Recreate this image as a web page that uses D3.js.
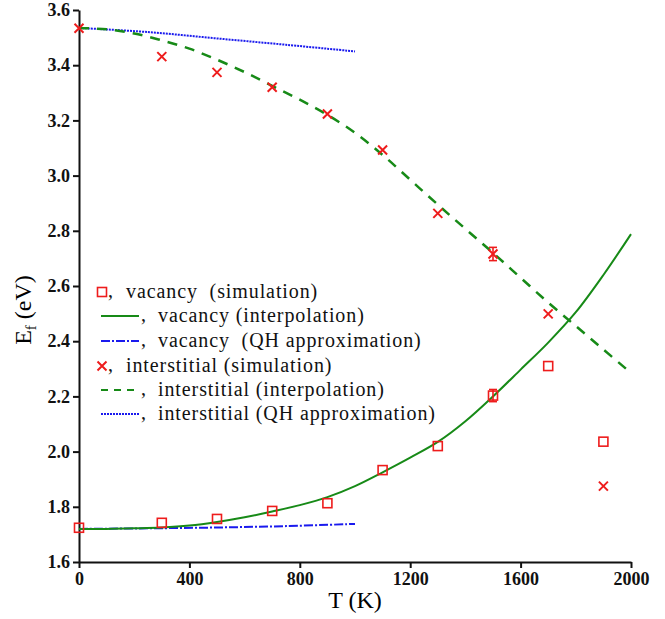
<!DOCTYPE html>
<html>
<head>
<meta charset="UTF-8">
<title>Formation energy</title>
<script src="https://cdn.jsdelivr.net/npm/d3@7/dist/d3.min.js"></script>
<style type="text/css">
body { margin: 0; background: #fff; }
svg { display: block; }
.axis path, .axis line { stroke: #111; stroke-width: 2; }
</style>
</head>
<body>
<div class="chart"></div>
<script>
// simulation points
var simTemps = [0, 300, 500, 700, 900, 1100, 1300, 1500, 1700, 1900];
var vacancySim = [1.724, 1.742, 1.756, 1.785, 1.813, 1.933, 2.02, 2.203, 2.31, 2.036];
var interstitialSim = [3.534, 3.431, 3.374, 3.32, 3.223, 3.093, 2.863, 2.716, 2.499, 1.875];

// error bars (only at 1500 K)
var errTemps = [1500];
var vacancyErr = [0.022];
var interstitialErr = [0.024];

// interpolation curves
var curveTemps = [0, 100, 200, 300, 400, 500, 600, 700, 800, 900, 1000, 1100, 1200, 1300, 1400, 1500, 1600, 1700, 1800, 1900, 2000];
var vacancyInterp = [1.72, 1.72, 1.722, 1.725, 1.732, 1.745, 1.762, 1.783, 1.806, 1.835, 1.875, 1.925, 1.978, 2.035, 2.11, 2.2, 2.297, 2.395, 2.505, 2.64, 2.788];
var interstitialInterp = [3.535, 3.53, 3.515, 3.49, 3.46, 3.42, 3.375, 3.325, 3.275, 3.22, 3.155, 3.075, 2.985, 2.895, 2.807, 2.72, 2.63, 2.54, 2.455, 2.37, 2.285];

// quasi-harmonic approximation
var qhTemps = [0, 250, 500, 750, 1000];
var vacancyQH = [1.72, 1.722, 1.725, 1.73, 1.738];
var interstitialQH = [3.535, 3.52, 3.497, 3.474, 3.45];

var xTicks = [0, 400, 800, 1200, 1600, 2000];
var yTicks = [1.6, 1.8, 2.0, 2.2, 2.4, 2.6, 2.8, 3.0, 3.2, 3.4, 3.6];

var legendLabels = ["vacancy  (simulation)", "vacancy (interpolation)", "vacancy  (QH approximation)",
  "interstitial (simulation)", "interstitial (interpolation)", "interstitial (QH approximation)"];

var red = "#ee1c1c", green = "#178a17", blue = "#1a1aee";
var serif = "Liberation Serif";

var svg = d3.select(".chart").append("svg")
  .attr("width", 665)
  .attr("height", 619);

var x = d3.scaleLinear().domain([0, 2000]).range([79, 631]);
var y = d3.scaleLinear().domain([1.6, 3.6]).range([562, 10]);

svg.append("g")
  .attr("class", "axis")
  .attr("transform", "translate(79,0)")
  .call(d3.axisLeft(y).tickValues(yTicks).tickFormat(d3.format(".1f")).tickSize(6).tickSizeOuter(0).tickPadding(3));

svg.append("g")
  .attr("class", "axis")
  .attr("transform", "translate(0,562)")
  .call(d3.axisBottom(x).tickValues(xTicks).tickFormat(d3.format("d")).tickSize(6).tickSizeOuter(0).tickPadding(4));

svg.selectAll(".axis").attr("font-family", serif).attr("font-size", 18);
svg.selectAll(".axis text")
  .attr("font-weight", "bold")
  .attr("fill", "#111");

// axis titles
svg.append("text")
  .attr("x", 355).attr("y", 608)
  .attr("text-anchor", "middle")
  .attr("font-family", serif).attr("font-size", 24)
  .text("T (K)");

var ylab = svg.append("text")
  .attr("transform", "translate(31,310) rotate(-90)")
  .attr("text-anchor", "middle")
  .attr("font-family", serif).attr("font-size", 24);
ylab.append("tspan").text("E");
ylab.append("tspan").attr("dy", 5).attr("font-size", 15).text("f");
ylab.append("tspan").attr("dy", -5).text(" (eV)");

function line(xs, ys) {
  return d3.line()
    .x(function(d, i){ return x(xs[i]); })
    .y(function(d){ return y(d); })
    .curve(d3.curveCatmullRom)(ys);
}

// QH approximations
svg.append("path").attr("d", line(qhTemps, vacancyQH))
  .attr("fill", "none").attr("stroke", blue).attr("stroke-width", 2).attr("stroke-dasharray", "9,2,2,2");
svg.append("path").attr("d", line(qhTemps, interstitialQH))
  .attr("fill", "none").attr("stroke", blue).attr("stroke-width", 2).attr("stroke-dasharray", "2,1");

// interpolations
svg.append("path").attr("d", line(curveTemps, vacancyInterp))
  .attr("fill", "none").attr("stroke", green).attr("stroke-width", 2);
svg.append("path").attr("d", line(curveTemps, interstitialInterp))
  .attr("fill", "none").attr("stroke", green).attr("stroke-width", 2.5).attr("stroke-dasharray", "10,8");

// error bars
function errorBars(vals, errs) {
  var g = svg.append("g").attr("stroke", red).attr("stroke-width", 1.6);
  errTemps.forEach(function(t, i){
    var k = simTemps.indexOf(t);
    var cx = x(t), top = y(vals[k] + errs[i]), bot = y(vals[k] - errs[i]);
    g.append("line").attr("x1", cx).attr("x2", cx).attr("y1", top).attr("y2", bot);
    g.append("line").attr("x1", cx - 4).attr("x2", cx + 4).attr("y1", top).attr("y2", top);
    g.append("line").attr("x1", cx - 4).attr("x2", cx + 4).attr("y1", bot).attr("y2", bot);
  });
}
errorBars(vacancySim, vacancyErr);
errorBars(interstitialSim, interstitialErr);

// simulation markers
function square(g, cx, cy) {
  g.append("rect").attr("x", cx - 4.5).attr("y", cy - 4.5).attr("width", 9).attr("height", 9)
    .attr("fill", "none").attr("stroke", red).attr("stroke-width", 1.6);
}
function cross(g, cx, cy) {
  g.append("path").attr("d", "M" + (cx - 4.5) + "," + (cy - 4.5) + "L" + (cx + 4.5) + "," + (cy + 4.5) +
    "M" + (cx - 4.5) + "," + (cy + 4.5) + "L" + (cx + 4.5) + "," + (cy - 4.5))
    .attr("fill", "none").attr("stroke", red).attr("stroke-width", 2);
}
var marks = svg.append("g");
simTemps.forEach(function(t, i){
  square(marks, x(t), y(vacancySim[i]));
  cross(marks, x(t), y(interstitialSim[i]));
});

// legend
var legend = svg.append("g").attr("font-family", serif).attr("font-size", 20).attr("fill", "#111");
var rowY = [292, 316, 341, 366, 390, 414];
legendLabels.forEach(function(lbl, i){
  var ry = rowY[i];
  var isMark = (i === 0 || i === 3);
  if (i === 0) square(legend, 102, ry);
  if (i === 3) cross(legend, 102, ry);
  if (!isMark) {
    var ln = legend.append("line").attr("x1", 101).attr("x2", 139).attr("y1", ry).attr("y2", ry)
      .attr("stroke", green).attr("stroke-width", 2);
    if (i === 2) ln.attr("stroke", blue).attr("stroke-dasharray", "9,2,2,2");
    if (i === 4) ln.attr("stroke-dasharray", "7,6");
    if (i === 5) ln.attr("stroke", blue).attr("stroke-dasharray", "2,1");
  }
  legend.append("text").attr("x", isMark ? 108 : 141).attr("y", ry + 5).text(",");
  legend.append("text").attr("x", isMark ? 126 : 158).attr("y", ry + 6)
    .attr("xml:space", "preserve")
    .style("white-space", "pre")
    .style("letter-spacing", "0.9px")
    .text(lbl);
});
</script>
</body>
</html>
